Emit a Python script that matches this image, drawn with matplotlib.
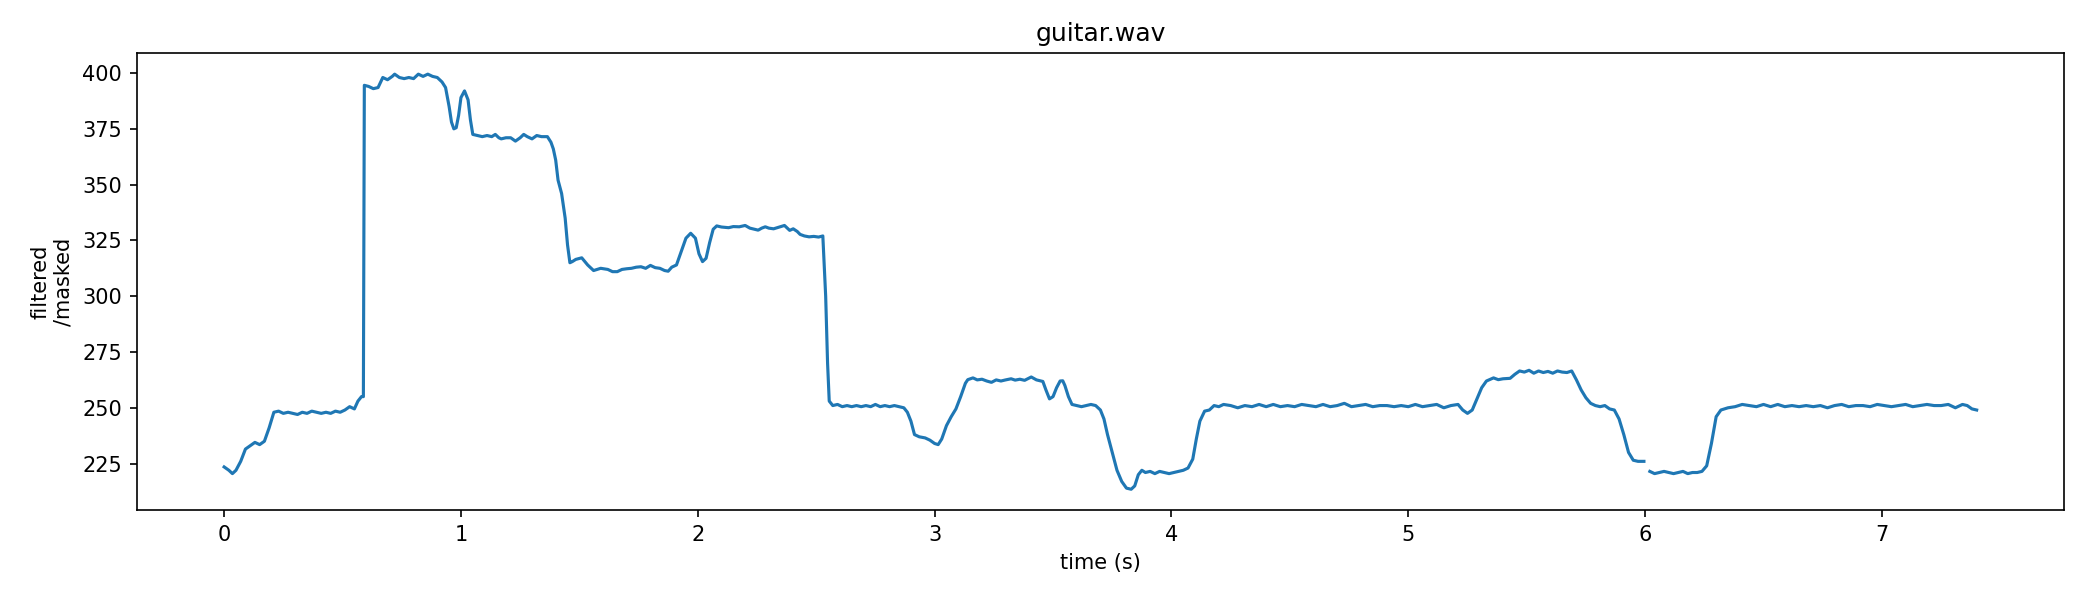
import numpy as np
import matplotlib.pyplot as plt

# pitch track (NaN = masked frame)
time_s = [
    0.00, 0.02, 0.035, 0.05, 0.07, 0.09, 0.11, 0.13, 0.15, 0.17, 0.19, 0.21, 0.23, 0.25, 0.27, 0.29,
    0.31, 0.33, 0.35, 0.37, 0.39, 0.41, 0.43, 0.45, 0.47, 0.49, 0.51, 0.53, 0.55, 0.565, 0.58, 0.588,
    0.592, 0.61, 0.63, 0.65, 0.67, 0.69, 0.71, 0.72, 0.74, 0.76, 0.78, 0.80, 0.82, 0.84, 0.86, 0.88,
    0.90, 0.92, 0.935, 0.95, 0.96, 0.97, 0.98, 0.99, 1.00, 1.015, 1.03, 1.04, 1.05, 1.07, 1.09, 1.11,
    1.13, 1.145, 1.16, 1.17, 1.19, 1.21, 1.23, 1.25, 1.265, 1.28, 1.30, 1.32, 1.34, 1.365, 1.38, 1.39,
    1.40, 1.41, 1.425, 1.44, 1.45, 1.46, 1.47, 1.485, 1.51, 1.535, 1.56, 1.59, 1.62, 1.64, 1.66, 1.68,
    1.70, 1.72, 1.74, 1.76, 1.78, 1.80, 1.82, 1.84, 1.86, 1.875, 1.89, 1.91, 1.93, 1.95, 1.97, 1.99,
    2.005, 2.02, 2.035, 2.05, 2.065, 2.08, 2.10, 2.13, 2.15, 2.175, 2.20, 2.22, 2.24, 2.255, 2.27, 2.285,
    2.30, 2.32, 2.345, 2.366, 2.388, 2.403, 2.42, 2.432, 2.45, 2.47, 2.49, 2.51, 2.528, 2.54, 2.548, 2.555,
    2.57, 2.59, 2.61, 2.63, 2.65, 2.67, 2.69, 2.71, 2.73, 2.75, 2.77, 2.79, 2.81, 2.83, 2.85, 2.87,
    2.885, 2.90, 2.915, 2.935, 2.96, 2.98, 3.00, 3.015, 3.03, 3.05, 3.07, 3.09, 3.11, 3.13, 3.14, 3.162,
    3.18, 3.20, 3.22, 3.24, 3.26, 3.28, 3.30, 3.323, 3.34, 3.36, 3.38, 3.408, 3.43, 3.457, 3.47, 3.485,
    3.50, 3.515, 3.53, 3.541, 3.55, 3.565, 3.58, 3.60, 3.62, 3.64, 3.66, 3.68, 3.70, 3.715, 3.73, 3.75,
    3.77, 3.79, 3.81, 3.83, 3.845, 3.86, 3.875, 3.89, 3.91, 3.93, 3.95, 3.97, 3.99, 4.01, 4.03, 4.05,
    4.07, 4.09, 4.105, 4.12, 4.14, 4.16, 4.18, 4.20, 4.22, 4.25, 4.28, 4.31, 4.34, 4.37, 4.40, 4.43,
    4.46, 4.49, 4.52, 4.55, 4.58, 4.61, 4.64, 4.67, 4.70, 4.73, 4.76, 4.79, 4.82, 4.85, 4.88, 4.91,
    4.94, 4.97, 5.00, 5.03, 5.06, 5.09, 5.12, 5.15, 5.18, 5.21, 5.23, 5.25, 5.27, 5.29, 5.31, 5.33,
    5.36, 5.38, 5.40, 5.43, 5.45, 5.47, 5.49, 5.51, 5.53, 5.55, 5.57, 5.59, 5.61, 5.63, 5.65, 5.67,
    5.69, 5.71, 5.73, 5.75, 5.77, 5.79, 5.81, 5.83, 5.85, 5.87, 5.89, 5.91, 5.93, 5.95, 5.97, 5.995,
    6.005, 6.02, 6.04, 6.06, 6.08, 6.10, 6.12, 6.14, 6.16, 6.18, 6.20, 6.22, 6.24, 6.26, 6.28, 6.30,
    6.32, 6.35, 6.38, 6.41, 6.44, 6.47, 6.50, 6.53, 6.56, 6.59, 6.62, 6.65, 6.68, 6.71, 6.74, 6.77,
    6.80, 6.83, 6.86, 6.89, 6.92, 6.95, 6.98, 7.01, 7.04, 7.07, 7.10, 7.13, 7.16, 7.19, 7.22, 7.25,
    7.28, 7.31, 7.34, 7.36, 7.38, 7.40,
]
pitch_hz = [
    223.5, 222, 220.5, 222, 226, 231.5, 233, 234.5, 233.5, 235, 241, 248, 248.5, 247.5, 248, 247.5,
    247, 248, 247.5, 248.5, 248, 247.5, 248, 247.5, 248.5, 248, 249, 250.5, 249.5, 253, 255, 255,
    394.5, 394, 393, 393.5, 398, 397, 398.5, 399.5, 398, 397.5, 398, 397.5, 399.5, 398.5, 399.5, 398.5,
    398, 396, 393.5, 385, 378, 375, 375.5, 381, 389, 392, 388, 379, 372.5, 372, 371.5, 372,
    371.5, 372.5, 371, 370.5, 371, 371, 369.5, 371, 372.5, 371.5, 370.5, 372, 371.5, 371.5, 369, 366,
    361, 352, 346, 335, 323, 315, 315.5, 316.5, 317.2, 314, 311.5, 312.5, 312, 311, 311, 312,
    312.3, 312.5, 313, 313.2, 312.5, 313.8, 312.8, 312.5, 311.5, 311.2, 313, 314, 320, 326, 328.2, 326,
    319, 315.5, 317, 324, 330, 331.5, 331, 330.7, 331.2, 331.1, 331.7, 330.5, 330, 329.6, 330.5, 331.1,
    330.5, 330.2, 331, 331.7, 329.5, 330.2, 329, 327.7, 327, 326.6, 326.8, 326.5, 327, 300, 270, 253,
    251, 251.5, 250.5, 251, 250.5, 251, 250.5, 251, 250.5, 251.5, 250.5, 251, 250.5, 251, 250.5, 250,
    248, 244, 238, 237, 236.5, 235.5, 234, 233.5, 236, 242, 246, 249.5, 255, 261, 262.6, 263.4,
    262.5, 262.8, 262, 261.4, 262.5, 262, 262.5, 263, 262.4, 262.8, 262.3, 263.8, 262.5, 261.8, 258, 254,
    255, 259, 262, 262.1, 260, 255, 251.5, 251, 250.5, 251, 251.5, 251, 249, 245, 238, 230,
    222, 217, 214, 213.5, 215, 220, 222, 221, 221.5, 220.5, 221.5, 221, 220.5, 221, 221.5, 222,
    223, 227, 236, 244, 248.5, 249, 251, 250.5, 251.5, 251, 250, 251, 250.5, 251.5, 250.5, 251.5,
    250.5, 251, 250.5, 251.5, 251, 250.5, 251.5, 250.5, 251, 252, 250.5, 251, 251.5, 250.5, 251, 251,
    250.5, 251, 250.5, 251.5, 250.5, 251, 251.5, 250, 251, 251.5, 249, 247.5, 249, 254, 259, 262,
    263.4, 262.6, 263, 263.2, 265, 266.5, 266, 266.8, 265.5, 266.5, 265.8, 266.3, 265.5, 266.5, 266, 265.8,
    266.5, 262.5, 258, 254.5, 252, 251, 250.5, 251, 249.5, 249, 245, 238, 230, 226.5, 226, 226,
    np.nan, 221.5, 220.5, 221, 221.5, 221, 220.5, 221, 221.5, 220.5, 221, 221, 221.5, 224, 234, 246,
    249, 250, 250.5, 251.5, 251, 250.5, 251.5, 250.5, 251.5, 250.5, 251, 250.5, 251, 250.5, 251, 250,
    251, 251.5, 250.5, 251, 251, 250.5, 251.5, 251, 250.5, 251, 251.5, 250.5, 251, 251.5, 251, 251,
    251.5, 250, 251.5, 251, 249.5, 249,
]

fig, ax = plt.subplots(figsize=(14, 4), dpi=150)
ax.plot(time_s, pitch_hz, color='C0', lw=1.5)
ax.set_title('guitar.wav')
ax.set_xlabel('time (s)')
ax.set_ylabel('filtered\n/masked')
plt.subplots_adjust(left=0.065, right=0.983, top=0.911, bottom=0.15)
plt.savefig('out.png', dpi=150)
plt.close()
